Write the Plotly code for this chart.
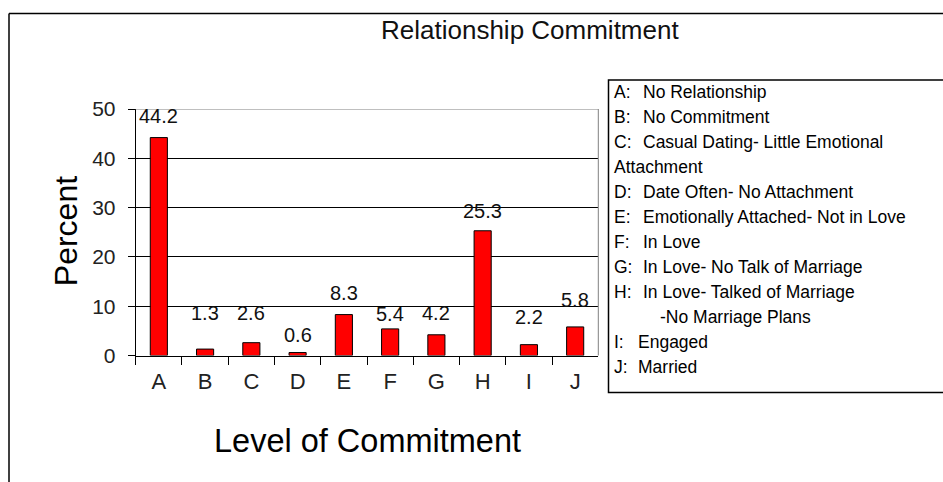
import plotly.graph_objects as go

# ---- data ----
categories = ["A", "B", "C", "D", "E", "F", "G", "H", "I", "J"]
percents = [44.2, 1.3, 2.6, 0.6, 8.3, 5.4, 4.2, 25.3, 2.2, 5.8]
y_ticks = [0, 10, 20, 30, 40, 50]
legend_prefixes = ["A:", "B:", "C:", "", "D:", "E:", "F:", "G:", "H:", "", "I:", "J:"]
legend_texts = [
    "No Relationship",
    "No Commitment",
    "Casual Dating- Little Emotional",
    "Attachment",
    "Date Often- No Attachment",
    "Emotionally Attached- Not in Love",
    "In Love",
    "In Love- No Talk of Marriage",
    "In Love- Talked of Marriage",
    "-No Marriage Plans",
    "Engaged",
    "Married",
]
title_text = "Relationship Commitment"
x_title = "Level of Commitment"
y_title = "Percent"

# ---- layout helpers (pixel geometry of the page) ----
W, H = 943, 482
FONT = "Liberation Sans, Arial, sans-serif"


def px(x):
    return x / W


def py(y):
    return (H - y) / H


# label offsets above bar tops (pixels), as placed in the original chart
label_shift = [22, 36, 30, 18, 22, 15, 22, 20, 28, 27]

fig = go.Figure()
fig.add_trace(go.Bar(
    x=categories, y=percents, width=0.37,
    marker=dict(color="#FF0000", line=dict(color="black", width=1)),
    hoverinfo="x+y", showlegend=False,
))

annotations = []
for c, v, s in zip(categories, percents, label_shift):
    annotations.append(dict(
        x=c, y=v, xref="x", yref="y", text=f"{v:.1f}", showarrow=False,
        xanchor="center", yanchor="middle", yshift=s,
        font=dict(family=FONT, size=20, color="#111"),
    ))

# title and axis titles
annotations.append(dict(x=px(530), y=py(29.5), xref="paper", yref="paper",
                        text=title_text, showarrow=False, xanchor="center", yanchor="middle",
                        font=dict(family=FONT, size=26, color="#111")))
annotations.append(dict(x=px(367), y=py(440.5), xref="paper", yref="paper",
                        text=x_title, showarrow=False, xanchor="center", yanchor="middle",
                        font=dict(family=FONT, size=32.5, color="black")))
annotations.append(dict(x=px(65.5), y=py(231.7), xref="paper", yref="paper",
                        text=y_title, showarrow=False, xanchor="center", yanchor="middle",
                        textangle=-90,
                        font=dict(family=FONT, size=32, color="black")))

# legend box text
row_y0, row_step = 91.7, 25.0
for i, (p, t) in enumerate(zip(legend_prefixes, legend_texts)):
    yy = row_y0 + i * row_step
    if p:
        annotations.append(dict(x=px(612), y=py(yy), xref="paper", yref="paper",
                                text=p, showarrow=False, xanchor="left", yanchor="middle",
                                font=dict(family=FONT, size=17.5, color="black")))
        tx = 636 if p in ("I:", "J:") else 641
    else:
        tx = 658 if t.startswith("-") else 612
    annotations.append(dict(x=px(tx), y=py(yy), xref="paper", yref="paper",
                            text=t, showarrow=False, xanchor="left", yanchor="middle",
                            font=dict(family=FONT, size=17.5, color="black")))

shapes = [
    # gray plot-area border (top and right)
    dict(type="line", xref="x domain", yref="y", x0=0, x1=1, y0=50, y1=50,
         line=dict(color="#808080", width=1)),
    dict(type="line", xref="x domain", yref="y domain", x0=1, x1=1, y0=0, y1=1,
         line=dict(color="#808080", width=1)),
    # legend box
    dict(type="rect", xref="paper", yref="paper", x0=px(608.5), x1=px(960),
         y0=py(392.5), y1=py(80), line=dict(color="black", width=1.5)),
    # outer frame (left and top edges visible)
    dict(type="line", xref="paper", yref="paper", x0=px(9), x1=px(9), y0=py(500), y1=py(13.5),
         line=dict(color="black", width=1.5)),
    dict(type="line", xref="paper", yref="paper", x0=px(9), x1=px(960), y0=py(13.5), y1=py(13.5),
         line=dict(color="black", width=1.5)),
]

fig.update_layout(
    template="none",
    width=W, height=H,
    margin=dict(l=0, r=0, t=0, b=0, pad=0, autoexpand=False),
    paper_bgcolor="white", plot_bgcolor="white",
    showlegend=False,
    annotations=annotations,
    shapes=shapes,
    xaxis=dict(
        domain=[px(135.7), px(598.3)],
        type="category", tickson="boundaries",
        ticks="outside", ticklen=8, tickcolor="black", tickwidth=1,
        showline=True, linecolor="black", linewidth=1,
        showgrid=False, zeroline=False, automargin=False,
        tickfont=dict(family=FONT, size=22, color="#222"),
        ticklabelstandoff=6,
        fixedrange=True,
    ),
    yaxis=dict(
        domain=[py(355.5), py(109)],
        range=[0, 50], tickvals=y_ticks,
        ticks="outside", ticklen=7, tickcolor="black", tickwidth=1,
        showline=True, linecolor="black", linewidth=1,
        showgrid=True, gridcolor="black", gridwidth=1,
        zeroline=False, automargin=False,
        tickfont=dict(family=FONT, size=21, color="#222"),
        ticklabelstandoff=8,
        fixedrange=True,
    ),
)

fig.write_html("out.html", config={"displayModeBar": False},
               post_script="document.body.style.margin='0';")
